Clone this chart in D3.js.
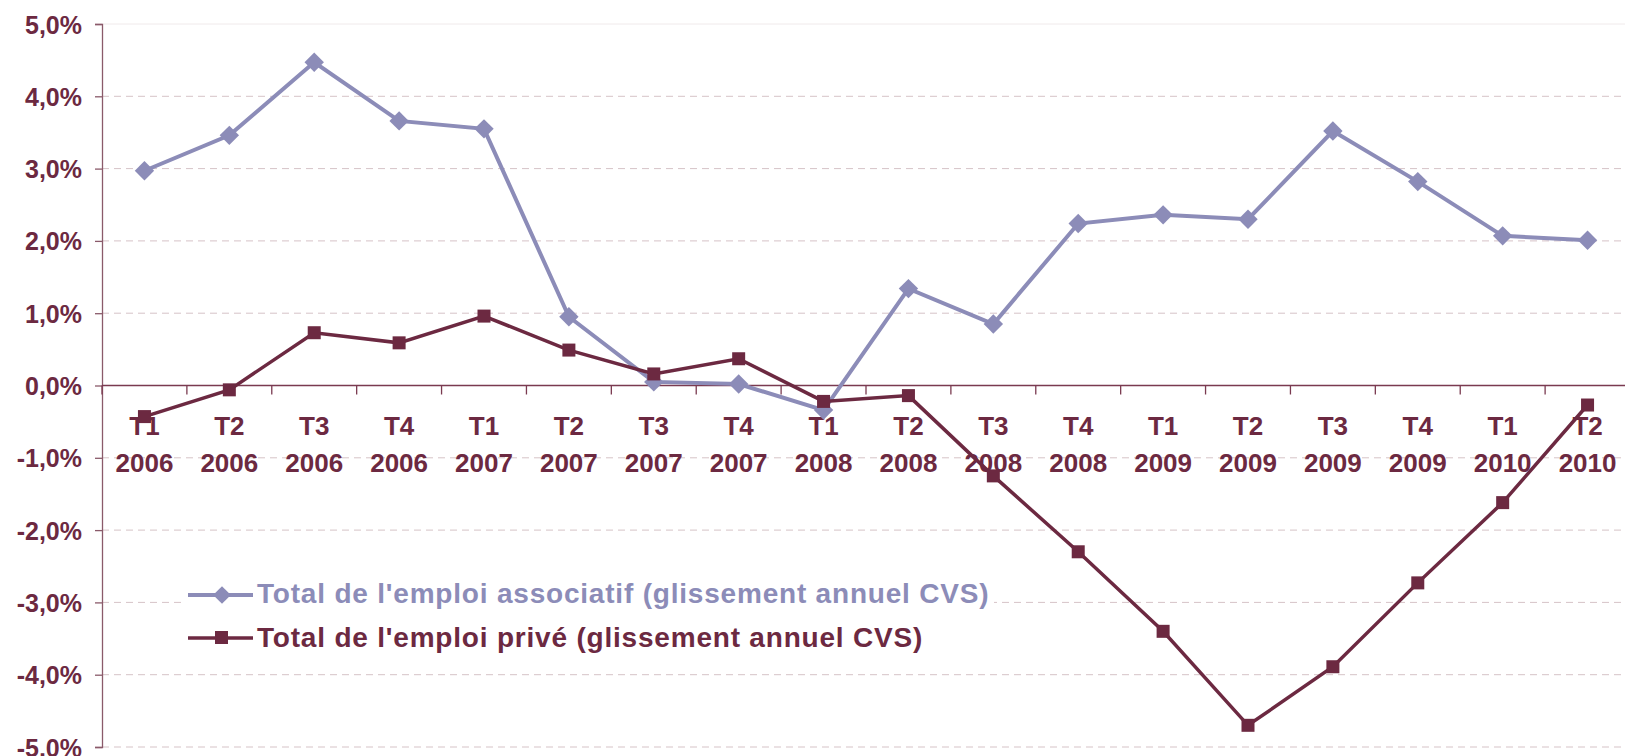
<!DOCTYPE html>
<meta charset="utf-8">
<script src="https://d3js.org/d3.v7.min.js"></script>
<style>
  body { margin: 0; background: #fff; }
  svg text { font-family: "Liberation Sans", Arial, sans-serif; font-weight: bold; }
</style>
<body>
<div id="chart"></div>
<script>
    // quarters and years shown on two lines under the zero axis
    var quarters = ["T1","T2","T3","T4","T1","T2","T3","T4","T1","T2","T3","T4","T1","T2","T3","T4","T1","T2"];
    var years = ["2006","2006","2006","2006","2007","2007","2007","2007","2008","2008","2008","2008","2009","2009","2009","2009","2010","2010"];

    // glissement annuel CVS, in %
    var associatif = [2.97, 3.46, 4.47, 3.66, 3.55, 0.95, 0.05, 0.02, -0.34, 1.34, 0.85, 2.24, 2.36, 2.30, 3.52, 2.82, 2.07, 2.01];
    var prive = [-0.43, -0.06, 0.73, 0.59, 0.96, 0.49, 0.16, 0.37, -0.22, -0.14, -1.25, -2.30, -3.40, -4.70, -3.89, -2.73, -1.62, -0.27];

    var yTicks = [-5, -4, -3, -2, -1, 0, 1, 2, 3, 4, 5];

    var labelAsso = "Total de l'emploi associatif (glissement annuel CVS)";
    var labelPrive = "Total de l'emploi privé (glissement annuel CVS)";

    var LAVENDER = "#8c8cb8", MAROON = "#6c2941";

    var width = 1625, height = 756;
    var plotLeft = 102, plotRight = 1630, plotTop = 24, plotBottom = 747;

    var svg = d3.select("#chart").append("svg")
        .attr("width", width)
        .attr("height", height);

    var x = d3.scaleBand()
        .domain(d3.range(quarters.length))
        .range([plotLeft, plotRight]);

    var y = d3.scaleLinear()
        .domain([-5, 5])
        .range([plotBottom, plotTop]);

    var fmt = function (d) { return d3.format(".1f")(d).replace(".", ",").replace("−", "-") + "%"; };

    // dashed gridlines
    svg.append("g")
        .selectAll("line")
        .data(yTicks.filter(d => d !== 0))
        .join("line")
            .attr("x1", plotLeft)
            .attr("x2", width)
            .attr("y1", d => y(d))
            .attr("y2", d => y(d))
            .attr("stroke", d => d === 5 ? "#f0eaeb" : "#d6c3c7")
            .attr("stroke-width", 1)
            .attr("stroke-dasharray", d => d === 5 ? null : "7,5");

    // y axis
    var yAxis = svg.append("g")
        .attr("transform", "translate(" + plotLeft + ",0)")
        .call(d3.axisLeft(y).tickValues(yTicks).tickSize(7).tickPadding(13).tickFormat(fmt));
    yAxis.select(".domain").attr("stroke", "#8a5a6a").attr("stroke-width", 1.3);
    yAxis.selectAll(".tick line").attr("stroke", "#8a5a6a").attr("stroke-width", 1.3);
    yAxis.selectAll(".tick text")
        .attr("fill", MAROON)
        .style("font-size", "25px")
        .attr("dy", "0.36em");

    // zero axis with ticks between categories
    svg.append("line")
        .attr("x1", plotLeft)
        .attr("x2", width)
        .attr("y1", y(0))
        .attr("y2", y(0))
        .attr("stroke", "#7a3a50")
        .attr("stroke-width", 1.3);

    svg.append("g")
        .selectAll("line")
        .data(d3.range(quarters.length + 1))
        .join("line")
            .attr("x1", d => plotLeft + d * x.step())
            .attr("x2", d => plotLeft + d * x.step())
            .attr("y1", y(0))
            .attr("y2", y(0) + 9)
            .attr("stroke", "#7a3a50")
            .attr("stroke-width", 1.3);

    // category labels
    var cats = svg.append("g")
        .selectAll("text")
        .data(quarters)
        .join("text")
            .attr("text-anchor", "middle")
            .attr("fill", MAROON)
            .style("font-size", "26px");
    cats.append("tspan")
        .attr("x", (d, i) => x(i) + x.bandwidth() / 2)
        .attr("y", y(0) + 49)
        .text(d => d);
    cats.append("tspan")
        .attr("x", (d, i) => x(i) + x.bandwidth() / 2)
        .attr("y", y(0) + 86)
        .text((d, i) => years[i]);

    var cx = i => x(i) + x.bandwidth() / 2;
    var line = d3.line().x((d, i) => cx(i)).y(d => y(d));

    // associatif series
    svg.append("path")
        .datum(associatif)
        .attr("d", line)
        .attr("fill", "none")
        .attr("stroke", LAVENDER)
        .attr("stroke-width", 4);

    svg.append("g")
        .selectAll("path")
        .data(associatif)
        .join("path")
            .attr("d", d3.symbol().type(d3.symbolDiamond2).size(240))
            .attr("transform", (d, i) => "translate(" + cx(i) + "," + y(d) + ")")
            .attr("fill", LAVENDER);

    // prive series
    svg.append("path")
        .datum(prive)
        .attr("d", line)
        .attr("fill", "none")
        .attr("stroke", MAROON)
        .attr("stroke-width", 3.5);

    svg.append("g")
        .selectAll("rect")
        .data(prive)
        .join("rect")
            .attr("x", (d, i) => cx(i) - 6.5)
            .attr("y", d => y(d) - 6.5)
            .attr("width", 13)
            .attr("height", 13)
            .attr("fill", MAROON);

    // legend
    var legend = svg.append("g");
    legend.append("rect")
        .attr("x", 184).attr("y", 576).attr("width", 810).attr("height", 78).attr("fill", "#fff");

    legend.append("line")
        .attr("x1", 188).attr("x2", 253).attr("y1", 595).attr("y2", 595)
        .attr("stroke", LAVENDER).attr("stroke-width", 4);
    legend.append("path")
        .attr("d", d3.symbol().type(d3.symbolDiamond2).size(200))
        .attr("transform", "translate(222,595)")
        .attr("fill", LAVENDER);
    legend.append("text")
        .attr("x", 257).attr("y", 603)
        .attr("fill", LAVENDER)
        .style("font-size", "28px")
        .style("letter-spacing", "0.8px")
        .text(labelAsso);

    legend.append("line")
        .attr("x1", 188).attr("x2", 253).attr("y1", 638).attr("y2", 638)
        .attr("stroke", MAROON).attr("stroke-width", 3.5);
    legend.append("rect")
        .attr("x", 215).attr("y", 631).attr("width", 13).attr("height", 13)
        .attr("fill", MAROON);
    legend.append("text")
        .attr("x", 257).attr("y", 647)
        .attr("fill", MAROON)
        .style("font-size", "28px")
        .style("letter-spacing", "0.8px")
        .text(labelPrive);
</script>
</body>
